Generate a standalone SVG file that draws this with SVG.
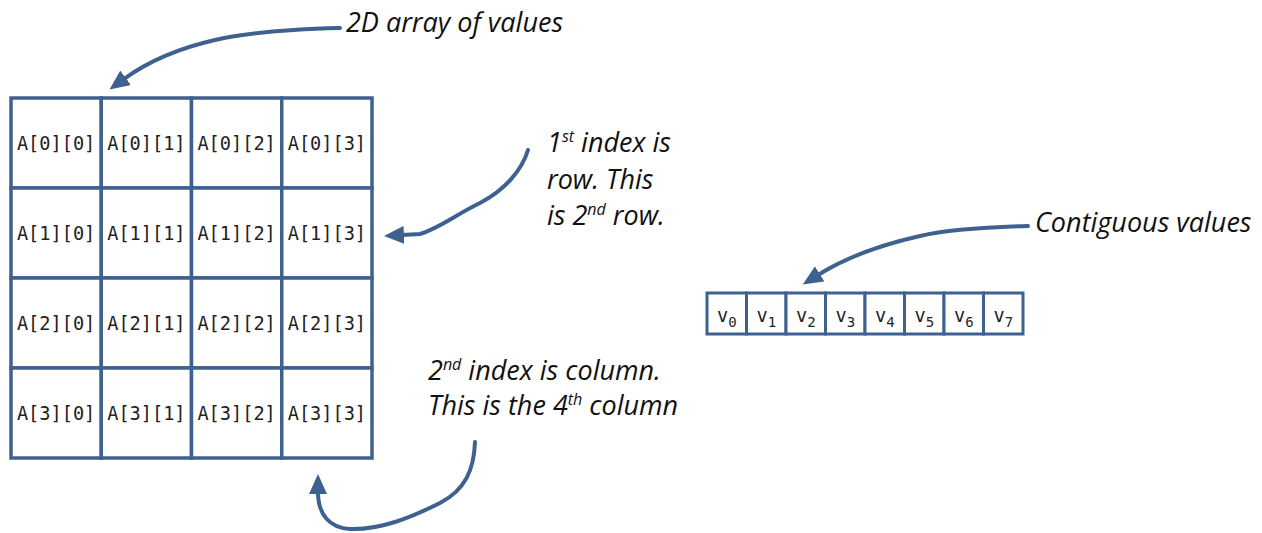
<svg xmlns="http://www.w3.org/2000/svg" width="1262" height="533" viewBox="0 0 1262 533">
  <style>
    .cell { fill: #ffffff; stroke: #3F6190; stroke-width: 3.5; }
    .vcell { fill: #ffffff; stroke: #3F6190; stroke-width: 3; }
    .mono { font-family: "DejaVu Sans Mono", "Liberation Mono", monospace; font-size: 18.6px; fill: #222222; text-anchor: middle; }
    .sub { font-size: 14px; }
    .note { font-family: "Open Sans", Lato, sans-serif; font-style: italic; font-size: 27px; fill: #111111; }
    .sup { font-size: 16px; }
    .arrow { fill: none; stroke: #3F6190; stroke-width: 4; stroke-linecap: round; stroke-linejoin: round; marker-end: url(#head); }
  </style>
  <defs>
    <marker id="head" markerUnits="userSpaceOnUse" viewBox="0 0 20 18" markerWidth="20" markerHeight="18" refX="2" refY="9" orient="auto">
      <path d="M0,0 L20,9 L0,18 z" fill="#3F6190"/>
    </marker>
  </defs>

  <g id="grid">
    <g id="cell-0-0"><rect class="cell" x="11" y="98" width="90.25" height="90"/><text class="mono" x="56.1" y="149.5">A[0][0]</text></g>
    <g id="cell-0-1"><rect class="cell" x="101.25" y="98" width="90.25" height="90"/><text class="mono" x="146.4" y="149.5">A[0][1]</text></g>
    <g id="cell-0-2"><rect class="cell" x="191.5" y="98" width="90.25" height="90"/><text class="mono" x="236.6" y="149.5">A[0][2]</text></g>
    <g id="cell-0-3"><rect class="cell" x="281.75" y="98" width="90.25" height="90"/><text class="mono" x="326.9" y="149.5">A[0][3]</text></g>

    <g id="cell-1-0"><rect class="cell" x="11" y="188" width="90.25" height="90"/><text class="mono" x="56.1" y="239.5">A[1][0]</text></g>
    <g id="cell-1-1"><rect class="cell" x="101.25" y="188" width="90.25" height="90"/><text class="mono" x="146.4" y="239.5">A[1][1]</text></g>
    <g id="cell-1-2"><rect class="cell" x="191.5" y="188" width="90.25" height="90"/><text class="mono" x="236.6" y="239.5">A[1][2]</text></g>
    <g id="cell-1-3"><rect class="cell" x="281.75" y="188" width="90.25" height="90"/><text class="mono" x="326.9" y="239.5">A[1][3]</text></g>

    <g id="cell-2-0"><rect class="cell" x="11" y="278" width="90.25" height="90"/><text class="mono" x="56.1" y="329.5">A[2][0]</text></g>
    <g id="cell-2-1"><rect class="cell" x="101.25" y="278" width="90.25" height="90"/><text class="mono" x="146.4" y="329.5">A[2][1]</text></g>
    <g id="cell-2-2"><rect class="cell" x="191.5" y="278" width="90.25" height="90"/><text class="mono" x="236.6" y="329.5">A[2][2]</text></g>
    <g id="cell-2-3"><rect class="cell" x="281.75" y="278" width="90.25" height="90"/><text class="mono" x="326.9" y="329.5">A[2][3]</text></g>

    <g id="cell-3-0"><rect class="cell" x="11" y="368" width="90.25" height="90"/><text class="mono" x="56.1" y="419.5">A[3][0]</text></g>
    <g id="cell-3-1"><rect class="cell" x="101.25" y="368" width="90.25" height="90"/><text class="mono" x="146.4" y="419.5">A[3][1]</text></g>
    <g id="cell-3-2"><rect class="cell" x="191.5" y="368" width="90.25" height="90"/><text class="mono" x="236.6" y="419.5">A[3][2]</text></g>
    <g id="cell-3-3"><rect class="cell" x="281.75" y="368" width="90.25" height="90"/><text class="mono" x="326.9" y="419.5">A[3][3]</text></g>
  </g>

  <g id="contiguous">
    <g id="v0"><rect class="vcell" x="707" y="293" width="39.5" height="41"/><text class="mono" x="726.75" y="322">v<tspan class="sub" dy="5">0</tspan></text></g>
    <g id="v1"><rect class="vcell" x="746.5" y="293" width="39.5" height="41"/><text class="mono" x="766.25" y="322">v<tspan class="sub" dy="5">1</tspan></text></g>
    <g id="v2"><rect class="vcell" x="786" y="293" width="39.5" height="41"/><text class="mono" x="805.75" y="322">v<tspan class="sub" dy="5">2</tspan></text></g>
    <g id="v3"><rect class="vcell" x="825.5" y="293" width="39.5" height="41"/><text class="mono" x="845.25" y="322">v<tspan class="sub" dy="5">3</tspan></text></g>
    <g id="v4"><rect class="vcell" x="865" y="293" width="39.5" height="41"/><text class="mono" x="884.75" y="322">v<tspan class="sub" dy="5">4</tspan></text></g>
    <g id="v5"><rect class="vcell" x="904.5" y="293" width="39.5" height="41"/><text class="mono" x="924.25" y="322">v<tspan class="sub" dy="5">5</tspan></text></g>
    <g id="v6"><rect class="vcell" x="944" y="293" width="39.5" height="41"/><text class="mono" x="963.75" y="322">v<tspan class="sub" dy="5">6</tspan></text></g>
    <g id="v7"><rect class="vcell" x="983.5" y="293" width="39.5" height="41"/><text class="mono" x="1003.25" y="322">v<tspan class="sub" dy="5">7</tspan></text></g>
  </g>

  <g id="label-2d"><text class="note" x="346" y="32">2D array of values</text></g>
  <g id="label-row">
    <text class="note" x="547" y="152">1<tspan class="sup" dy="-10">st</tspan><tspan dy="10"> index is</tspan></text>
    <text class="note" x="547" y="189">row. This</text>
    <text class="note" x="547" y="225">is 2<tspan class="sup" dy="-10">nd</tspan><tspan dy="10"> row.</tspan></text>
  </g>
  <g id="label-col">
    <text class="note" x="428" y="380">2<tspan class="sup" dy="-10">nd</tspan><tspan dy="10"> index is column.</tspan></text>
    <text class="note" x="428" y="415">This is the 4<tspan class="sup" dy="-10">th</tspan><tspan dy="10"> column</tspan></text>
  </g>
  <g id="label-contig"><text class="note" x="1035" y="232">Contiguous values</text></g>

  <g id="connectors">
    <path class="arrow" d="M340,28 C300,29 250,32 215,40 C180,48 150,60 124,79"/>
    <path class="arrow" d="M528,150 C522,170 505,190 480,203 C455,215 440,228 420,234 L402,235"/>
    <path class="arrow" d="M475,442 C474,470 465,490 440,503 C410,518 380,530 350,529 C330,528 318,515 318,492"/>
    <path class="arrow" d="M1028,226 C990,227 950,229 920,236 C880,245 845,258 818,275"/>
  </g>
</svg>
